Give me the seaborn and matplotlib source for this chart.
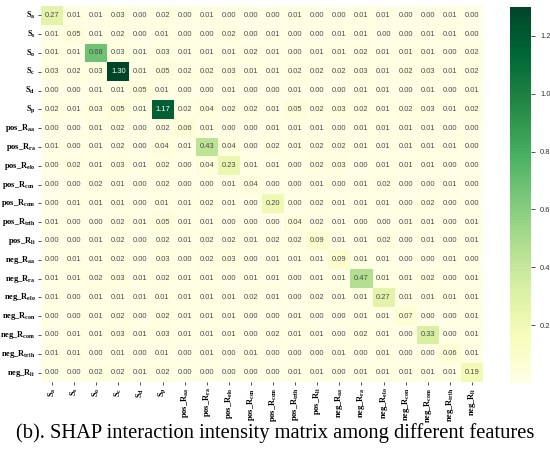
import numpy as np
import pandas as pd
import matplotlib
matplotlib.use("Agg")
import matplotlib.pyplot as plt
import seaborn as sns

features = ["S_a", "S_s", "S_o", "S_c", "S_d", "S_p",
            "pos_R_aa", "pos_R_ra", "pos_R_elo", "pos_R_con", "pos_R_com", "pos_R_trih", "pos_R_li",
            "neg_R_aa", "neg_R_ra", "neg_R_elo", "neg_R_con", "neg_R_com", "neg_R_trih", "neg_R_li"]

tick_labels = [r"$\mathbf{S_a}$", r"$\mathbf{S_s}$", r"$\mathbf{S_o}$", r"$\mathbf{S_c}$",
               r"$\mathbf{S_d}$", r"$\mathbf{S_p}$",
               r"$\mathbf{pos\_R_{aa}}$", r"$\mathbf{pos\_R_{ra}}$", r"$\mathbf{pos\_R_{elo}}$",
               r"$\mathbf{pos\_R_{con}}$", r"$\mathbf{pos\_R_{com}}$", r"$\mathbf{pos\_R_{trih}}$",
               r"$\mathbf{pos\_R_{li}}$",
               r"$\mathbf{neg\_R_{aa}}$", r"$\mathbf{neg\_R_{ra}}$", r"$\mathbf{neg\_R_{elo}}$",
               r"$\mathbf{neg\_R_{con}}$", r"$\mathbf{neg\_R_{com}}$", r"$\mathbf{neg\_R_{trih}}$",
               r"$\mathbf{neg\_R_{li}}$"]

row_S_a = [0.27, 0.01, 0.01, 0.03, 0.00, 0.02, 0.00, 0.01, 0.00, 0.00, 0.00, 0.01, 0.00, 0.00, 0.01, 0.01, 0.00, 0.00, 0.01, 0.00]
row_S_s = [0.01, 0.05, 0.01, 0.02, 0.00, 0.01, 0.00, 0.00, 0.02, 0.00, 0.01, 0.00, 0.00, 0.01, 0.01, 0.00, 0.00, 0.01, 0.01, 0.00]
row_S_o = [0.01, 0.01, 0.68, 0.03, 0.01, 0.03, 0.01, 0.01, 0.01, 0.02, 0.01, 0.00, 0.01, 0.01, 0.02, 0.01, 0.01, 0.01, 0.00, 0.02]
row_S_c = [0.03, 0.02, 0.03, 1.30, 0.01, 0.05, 0.02, 0.02, 0.03, 0.01, 0.01, 0.02, 0.02, 0.02, 0.03, 0.01, 0.02, 0.03, 0.01, 0.02]
row_S_d = [0.00, 0.00, 0.01, 0.01, 0.05, 0.01, 0.00, 0.00, 0.01, 0.00, 0.00, 0.01, 0.00, 0.00, 0.01, 0.01, 0.00, 0.01, 0.00, 0.01]
row_S_p = [0.02, 0.01, 0.03, 0.05, 0.01, 1.17, 0.02, 0.04, 0.02, 0.02, 0.01, 0.05, 0.02, 0.03, 0.02, 0.01, 0.02, 0.03, 0.01, 0.02]
row_pos_R_aa = [0.00, 0.00, 0.01, 0.02, 0.00, 0.02, 0.06, 0.01, 0.00, 0.00, 0.01, 0.01, 0.01, 0.00, 0.01, 0.01, 0.01, 0.01, 0.00, 0.00]
row_pos_R_ra = [0.01, 0.00, 0.01, 0.02, 0.00, 0.04, 0.01, 0.43, 0.04, 0.00, 0.02, 0.01, 0.02, 0.02, 0.01, 0.01, 0.01, 0.01, 0.01, 0.00]
row_pos_R_elo = [0.00, 0.02, 0.01, 0.03, 0.01, 0.02, 0.00, 0.04, 0.23, 0.01, 0.01, 0.00, 0.02, 0.03, 0.00, 0.01, 0.01, 0.01, 0.00, 0.00]
row_pos_R_con = [0.00, 0.00, 0.02, 0.01, 0.00, 0.02, 0.00, 0.00, 0.01, 0.04, 0.00, 0.00, 0.01, 0.00, 0.01, 0.02, 0.00, 0.00, 0.01, 0.00]
row_pos_R_com = [0.00, 0.01, 0.01, 0.01, 0.00, 0.01, 0.01, 0.02, 0.01, 0.00, 0.20, 0.00, 0.02, 0.01, 0.01, 0.01, 0.00, 0.02, 0.00, 0.00]
row_pos_R_trih = [0.01, 0.00, 0.00, 0.02, 0.01, 0.05, 0.01, 0.01, 0.00, 0.00, 0.00, 0.04, 0.02, 0.01, 0.00, 0.00, 0.01, 0.01, 0.00, 0.01]
row_pos_R_li = [0.00, 0.00, 0.01, 0.02, 0.00, 0.02, 0.01, 0.02, 0.02, 0.01, 0.02, 0.02, 0.09, 0.01, 0.01, 0.02, 0.00, 0.01, 0.00, 0.01]
row_neg_R_aa = [0.00, 0.01, 0.01, 0.02, 0.00, 0.03, 0.00, 0.02, 0.03, 0.00, 0.01, 0.01, 0.01, 0.09, 0.01, 0.01, 0.00, 0.00, 0.01, 0.00]
row_neg_R_ra = [0.01, 0.01, 0.02, 0.03, 0.01, 0.02, 0.01, 0.01, 0.00, 0.01, 0.01, 0.00, 0.01, 0.01, 0.47, 0.01, 0.01, 0.02, 0.00, 0.01]
row_neg_R_elo = [0.01, 0.00, 0.01, 0.01, 0.01, 0.01, 0.01, 0.01, 0.01, 0.02, 0.01, 0.00, 0.02, 0.01, 0.01, 0.27, 0.01, 0.01, 0.01, 0.01]
row_neg_R_con = [0.00, 0.00, 0.01, 0.02, 0.00, 0.02, 0.01, 0.01, 0.01, 0.00, 0.00, 0.01, 0.00, 0.00, 0.01, 0.01, 0.07, 0.00, 0.00, 0.01]
row_neg_R_com = [0.00, 0.01, 0.01, 0.03, 0.01, 0.03, 0.01, 0.01, 0.01, 0.00, 0.02, 0.01, 0.01, 0.00, 0.02, 0.01, 0.00, 0.33, 0.00, 0.01]
row_neg_R_trih = [0.01, 0.01, 0.00, 0.01, 0.00, 0.01, 0.00, 0.01, 0.00, 0.01, 0.00, 0.00, 0.00, 0.01, 0.00, 0.01, 0.00, 0.00, 0.06, 0.01]
row_neg_R_li = [0.00, 0.00, 0.02, 0.02, 0.01, 0.02, 0.00, 0.00, 0.00, 0.00, 0.00, 0.01, 0.01, 0.00, 0.01, 0.01, 0.01, 0.01, 0.01, 0.19]

rows = [row_S_a, row_S_s, row_S_o, row_S_c, row_S_d, row_S_p,
        row_pos_R_aa, row_pos_R_ra, row_pos_R_elo, row_pos_R_con, row_pos_R_com, row_pos_R_trih, row_pos_R_li,
        row_neg_R_aa, row_neg_R_ra, row_neg_R_elo, row_neg_R_con, row_neg_R_com, row_neg_R_trih, row_neg_R_li]

df = pd.DataFrame(rows, index=features, columns=features)

title = "(b). SHAP interaction intensity matrix among different features"

plt.rcParams["mathtext.fontset"] = "custom"
plt.rcParams["mathtext.rm"] = "Liberation Serif"
plt.rcParams["mathtext.bf"] = "Liberation Serif:bold"
plt.rcParams["mathtext.it"] = "Liberation Serif:italic"

fig = plt.figure(figsize=(5.5, 4.51), dpi=100)
W, H = 550, 451
ax = fig.add_axes([41 / W, 1 - 382 / H, 442 / W, 376 / H])
cax = fig.add_axes([510 / W, 1 - 383 / H, 21 / W, 376 / H])

sns.heatmap(df, ax=ax, cbar_ax=cax, cmap="YlGn", vmin=0.0, vmax=1.30,
            annot=True, fmt=".2f",
            annot_kws={"fontsize": 5.4, "family": "Liberation Sans"},
            xticklabels=tick_labels, yticklabels=tick_labels)

for t in ax.texts:
    r, g, b, _ = matplotlib.colors.to_rgba(t.get_color())
    if r < 0.5:
        t.set_color("#4a4a4a")

ax.tick_params(axis="both", length=2.5, width=0.6, color="#333333", pad=1.5)
ax.set_xticklabels(tick_labels, rotation=90, fontsize=6.0)
ax.set_yticklabels(tick_labels, rotation=0, fontsize=6.0)
ax.set_xlabel("")
ax.set_ylabel("")

cax.tick_params(labelsize=5.5, length=3, width=0.6, color="#333333", labelcolor="#333333")
cax.yaxis.set_ticks([0.2, 0.4, 0.6, 0.8, 1.0, 1.2])
for t in cax.get_yticklabels():
    t.set_family("Liberation Sans")

fig.text(0.5, 1 - 433 / H, title, ha="center", va="center",
         fontsize=14.8, family="Liberation Serif")

fig.savefig("out.png", dpi=100)
